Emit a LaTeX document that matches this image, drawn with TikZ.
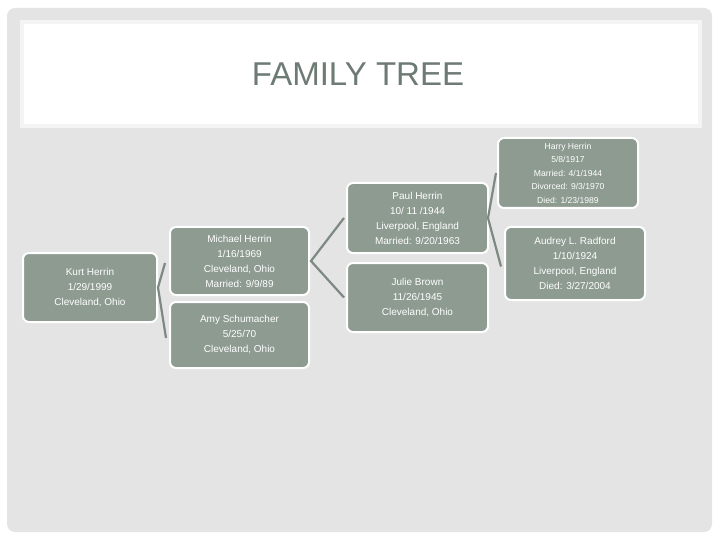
\documentclass[tikz,border=0pt]{standalone}
\usepackage{fontspec}
\setmainfont{Liberation Sans}
\definecolor{sage}{HTML}{8D9B91}
\definecolor{bggray}{HTML}{E4E4E4}
\definecolor{titlegray}{HTML}{6E7A74}
\definecolor{linegray}{HTML}{7D8983}
\definecolor{titleedge}{HTML}{F3F4F3}
\tikzset{
  person/.style={rectangle, rounded corners=6pt, fill=sage, draw=white, line width=2pt,
    text=white, align=center, inner sep=0pt, font=\fontsize{10}{15}\selectfont},
  smallperson/.style={person, font=\fontsize{8.6}{13.5}\selectfont},
  link/.style={draw=linegray, line width=2.2pt}
}
\begin{document}
\begin{tikzpicture}[x=1pt,y=-1pt]
\useasboundingbox (0,0) rectangle (720,540);
\fill[white] (0,0) rectangle (720,540);
\fill[bggray, rounded corners=8pt] (7,8) rectangle (712,532);
\node[draw=titleedge, line width=4pt, fill=white, minimum width=678pt, minimum height=104pt, inner sep=0pt] (titlebox) at (361,74) {};
\node[text=titlegray, font=\fontsize{33}{36}\selectfont] (title) at (358,74) {FAMILY TREE};

\node[person, minimum width=134pt, minimum height=69pt] (kurt) at (90,287.5)
  {Kurt Herrin\\1/29/1999\\Cleveland, Ohio};
\node[person, minimum width=139pt, minimum height=68pt] (michael) at (239.5,261)
  {Michael Herrin\\1/16/1969\\Cleveland, Ohio\\Married: 9/9/89};
\node[person, minimum width=139pt, minimum height=66pt] (amy) at (239.5,335)
  {Amy Schumacher\\5/25/70\\Cleveland, Ohio};
\node[person, minimum width=141pt, minimum height=70pt] (paul) at (417.5,218)
  {Paul Herrin\\10/ 11 /1944\\Liverpool, England\\Married: 9/20/1963};
\node[person, minimum width=141pt, minimum height=69pt] (julie) at (417.5,297.5)
  {Julie Brown\\11/26/1945\\Cleveland, Ohio};
\node[smallperson, minimum width=140pt, minimum height=70pt] (harry) at (568,173)
  {Harry Herrin\\5/8/1917\\Married: 4/1/1944\\Divorced: 9/3/1970\\Died: 1/23/1989};
\node[person, minimum width=140pt, minimum height=73pt] (audrey) at (575,263.5)
  {Audrey L. Radford\\1/10/1924\\Liverpool, England\\Died: 3/27/2004};

\coordinate (k1) at ([xshift=-4pt,yshift=-2pt]michael.west);
\coordinate (k2) at ([xshift=-3pt,yshift=-3pt]amy.west);
\draw[link] (k1) -- (kurt.east) -- (k2);
\draw[link] ([xshift=-2pt]paul.west) -- ([xshift=1pt]michael.east) -- ([xshift=-2pt]julie.west);
\coordinate (p1) at ([xshift=-1pt]harry.west);
\coordinate (p2) at ([xshift=-3pt,yshift=-3pt]audrey.west);
\draw[link] (p1) -- ([xshift=-1pt]paul.east) -- (p2);
\end{tikzpicture}
\end{document}
